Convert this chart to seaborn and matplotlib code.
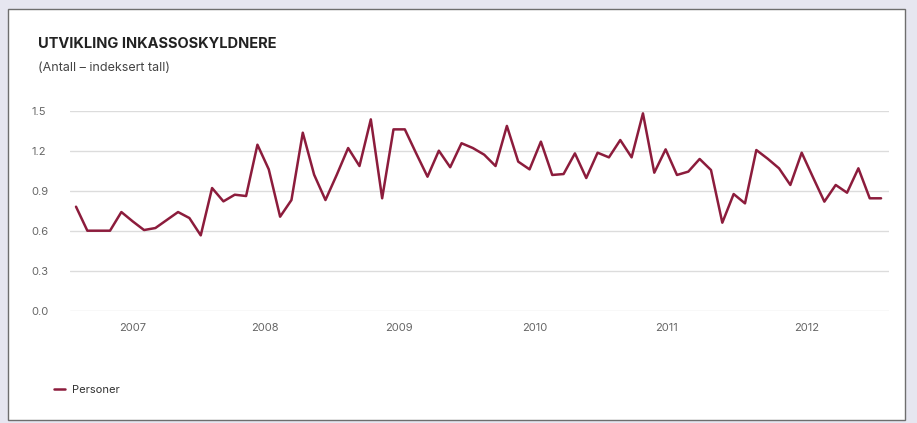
import numpy as np
import pandas as pd
import matplotlib
matplotlib.use("Agg")
import matplotlib.pyplot as plt
from matplotlib.patches import Rectangle
from matplotlib.lines import Line2D
import seaborn as sns

# ---- data (monthly index values, Jan 2007 - Dec 2012) ----
values = [
    0.78, 0.60, 0.60, 0.60, 0.74, 0.67, 0.605, 0.62, 0.68, 0.74, 0.695, 0.565,
    0.92, 0.82, 0.87, 0.86, 1.245, 1.06, 0.705, 0.83, 1.335, 1.02, 0.83, 1.02,
    1.22, 1.085, 1.435, 0.843, 1.36, 1.36, 1.18, 1.005, 1.20, 1.076, 1.256, 1.22,
    1.17, 1.085, 1.386, 1.118, 1.06, 1.268, 1.018, 1.025, 1.18, 0.995, 1.185, 1.15,
    1.28, 1.15, 1.48, 1.035, 1.21, 1.018, 1.043, 1.138, 1.055, 0.66, 0.875, 0.805,
    1.205, 1.14, 1.068, 0.943, 1.185, 1.00, 0.818, 0.943, 0.885, 1.068, 0.843, 0.843,
]
year_labels = ["2007", "2008", "2009", "2010", "2011", "2012"]
y_ticks = [0.0, 0.3, 0.6, 0.9, 1.2, 1.5]
series_name = "Personer"
title = "UTVIKLING INKASSOSKYLDNERE"
subtitle = "(Antall – indeksert tall)"

df = pd.DataFrame({"t": np.arange(len(values)), "v": values})

sns.set_theme(style="white")
plt.rcParams["font.family"] = ["Inter", "DejaVu Sans"]

W, H = 917, 423
fig = plt.figure(figsize=(W / 100, H / 100), dpi=100)
fig.patch.set_facecolor("#e6e6f0")

# white card
card = Rectangle((8 / W, 1 - 420 / H), (905 - 8) / W, (420 - 9) / H,
                 transform=fig.transFigure, facecolor="white",
                 edgecolor="#6e6e6e", linewidth=1.0, zorder=-5)
fig.patches.append(card)

ax = fig.add_axes([70 / W, 1 - 310.7 / H, (889 - 70) / W, 200 / H])
ax.set_facecolor("none")
ax.set_zorder(2)

line_color = "#8c1c3c"
sns.lineplot(data=df, x="t", y="v", ax=ax, color=line_color, linewidth=1.8,
             legend=False)

ax.set_xlim(-0.53, 71.7)
ax.set_ylim(0, 1.5)
ax.set_yticks(y_ticks)
ax.set_yticklabels([f"{v:.1f}" for v in y_ticks])
tick_pos = [5.0, 16.7, 28.5, 40.5, 52.1, 64.4]
ax.set_xticks(tick_pos)
ax.set_xticklabels(year_labels)
ax.grid(axis="y", color="#dcdcdc", linewidth=1.0)
ax.grid(axis="x", visible=False)
for s in ax.spines.values():
    s.set_visible(False)
ax.tick_params(axis="y", length=0, labelsize=8, labelcolor="#666666")
ax.tick_params(axis="x", length=0, pad=9, labelsize=8, labelcolor="#666666")
for lbl in ax.get_yticklabels():
    lbl.set_horizontalalignment("left")
ax.yaxis.set_tick_params(pad=28)
ax.set_xlabel("")
ax.set_ylabel("")

fig.text(38 / W, 1 - 44 / H, title, fontsize=10.5, fontweight="bold",
         color="#222222", va="center", ha="left")
fig.text(38 / W, 1 - 68 / H, subtitle, fontsize=9, color="#444444",
         va="center", ha="left")

handle = Line2D([], [], color=line_color, linewidth=1.8)
fig.legend(handles=[handle], labels=[series_name], loc="center left",
           bbox_to_anchor=(44 / W, 1 - 390 / H), frameon=False,
           handlelength=1.0, handletextpad=0.6, fontsize=8,
           labelcolor="#333333")

fig.savefig("out.png", dpi=100, facecolor=fig.get_facecolor())
